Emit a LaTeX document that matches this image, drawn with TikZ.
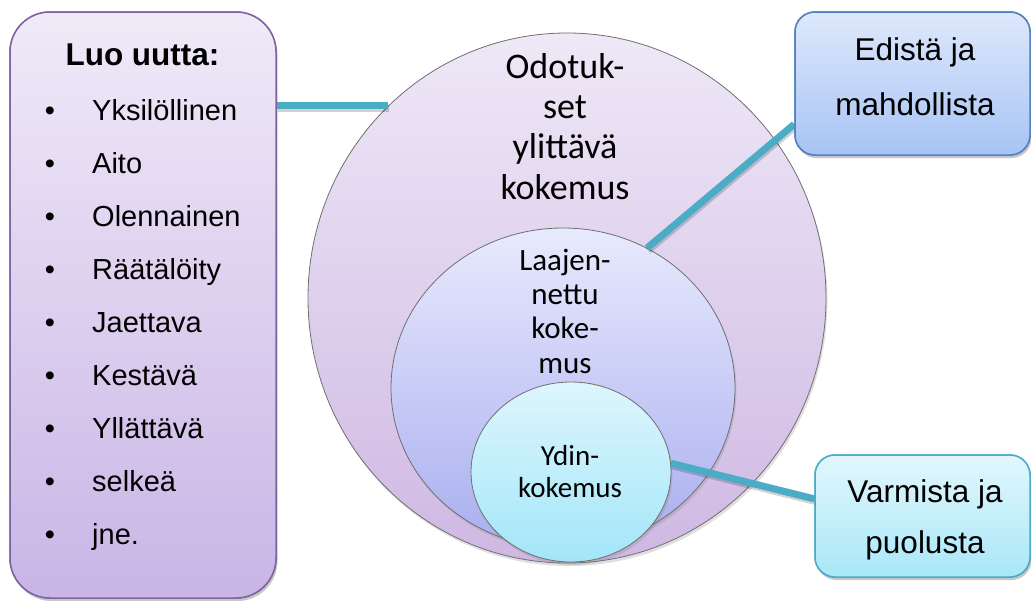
\documentclass[tikz,border=0pt]{standalone}
\usepackage{fontspec}
\setmainfont{Liberation Sans}
\newfontfamily\calib{Carlito}
\usetikzlibrary{shapes.geometric,shadows}
\definecolor{purpborder}{HTML}{8064A2}
\definecolor{lboxtop}{HTML}{F0EAF8}
\definecolor{lboxbot}{HTML}{C9B5E6}
\definecolor{outtop}{HTML}{EEE8F7}
\definecolor{outbot}{HTML}{CFB8E3}
\definecolor{midtop}{HTML}{E8EAFD}
\definecolor{midbot}{HTML}{A9AEEF}
\definecolor{inntop}{HTML}{DDF6FD}
\definecolor{innbot}{HTML}{A3E6F9}
\definecolor{eboxtop}{HTML}{DEE8FB}
\definecolor{eboxbot}{HTML}{A7C4F5}
\definecolor{eborder}{HTML}{4F81BD}
\definecolor{vboxtop}{HTML}{E2F7FD}
\definecolor{vboxbot}{HTML}{A9E7F8}
\definecolor{teal}{HTML}{4BACC6}
\definecolor{ringline}{HTML}{6F6F6F}
\begin{document}
\begin{tikzpicture}[x=1pt,y=-1pt,
  shad/.style={drop shadow={opacity=0.25,shadow xshift=1.5pt,shadow yshift=-3pt}},
  ring/.style={ellipse,draw=ringline,line width=0.8pt,inner sep=0pt,shad},
  box/.style={rectangle,line width=1.5pt,inner sep=0pt,shad},
  item/.style={anchor=base west,inner sep=0pt,font=\fontsize{29}{34}\selectfont},
  bul/.style={anchor=base,inner sep=0pt,font=\fontsize{29}{34}\selectfont},
  btxt/.style={anchor=base,inner sep=0pt,font=\fontsize{31.5}{36}\selectfont},
  otxt/.style={anchor=base,inner sep=0pt,font=\calib\fontsize{36}{40}\selectfont},
  mtxt/.style={anchor=base,inner sep=0pt,font=\calib\fontsize{31}{34}\selectfont},
  itxt/.style={anchor=base,inner sep=0pt,font=\calib\fontsize{29}{32}\selectfont},
  conn/.style={draw=teal,line width=7pt},
  connshadow/.style={draw=black,opacity=0.18,line width=7pt}
]
\useasboundingbox (0,0) rectangle (1031,600);

% rings
\node[ring,top color=outtop,bottom color=outbot,minimum width=518pt,minimum height=530pt] (outer) at (567,298) {};
\node[ring,top color=midtop,bottom color=midbot,minimum width=344pt,minimum height=320pt] (middle) at (563,388) {};
\node[ring,top color=inntop,bottom color=innbot,minimum width=200pt,minimum height=180pt] (inner) at (571,472) {};

% ring texts
\node[otxt] (o1t) at (565,78) {Odotuk-};
\node[otxt] (o2t) at (565,118) {set};
\node[otxt] (o3t) at (565,158) {ylittävä};
\node[otxt] (o4t) at (565,199) {kokemus};
\node[mtxt] (m1t) at (565,270) {Laajen-};
\node[mtxt] (m2t) at (565,304) {nettu};
\node[mtxt] (m3t) at (565,338) {koke-};
\node[mtxt] (m4t) at (565,373) {mus};
\node[itxt] (i1t) at (570,465) {Ydin-};
\node[itxt] (i2t) at (570,497) {kokemus};

% boxes (placed before connectors so anchors exist)
\node[box,draw=purpborder,rounded corners=40pt,top color=lboxtop,bottom color=lboxbot,minimum width=266pt,minimum height=586pt] (lbox) at (143,305) {};
\node[box,draw=eborder,rounded corners=20pt,top color=eboxtop,bottom color=eboxbot,minimum width=235pt,minimum height=143pt] (ebox) at (912.5,83.5) {};
\node[box,draw=teal,rounded corners=20pt,top color=vboxtop,bottom color=vboxbot,minimum width=215pt,minimum height=122pt] (vbox) at (922.5,516) {};

% connector end points
\coordinate (oc) at (outer.133);
\coordinate (mc) at (middle.59.6);
\coordinate (ic) at (inner.5.6);

% connectors
\begin{scope}[transform canvas={xshift=1pt,yshift=-2.5pt}]
\draw[connshadow] (lbox.east |- oc) -- (oc);
\draw[connshadow] (mc) -- (ebox.199.5);
\draw[connshadow] (ic) -- (vbox.171.5);
\end{scope}
\draw[conn] (lbox.east |- oc) -- (oc);
\draw[conn] (mc) -- (ebox.199.5);
\draw[conn] (ic) -- (vbox.171.5);

% redraw boxes on top of connector ends
\node[box,draw=purpborder,rounded corners=40pt,top color=lboxtop,bottom color=lboxbot,minimum width=266pt,minimum height=586pt] (lbox2) at (143,305) {};
\node[box,draw=eborder,rounded corners=20pt,top color=eboxtop,bottom color=eboxbot,minimum width=235pt,minimum height=143pt] (ebox2) at (912.5,83.5) {};
\node[box,draw=teal,rounded corners=20pt,top color=vboxtop,bottom color=vboxbot,minimum width=215pt,minimum height=122pt] (vbox2) at (922.5,516) {};

% left box texts
\node[anchor=base,inner sep=0pt,font=\bfseries\fontsize{31.5}{36}\selectfont] (title) at (142.5,65) {Luo uutta:};
\foreach \t [count=\i] in {Yksilöllinen,Aito,Olennainen,Räätälöity,Jaettava,Kestävä,Yllättävä,selkeä,jne.}{
  \node[bul] (b\i) at (50,{120+53*(\i-1)}) {•};
  \node[item] (t\i) at (92,{120+53*(\i-1)}) {\t};
}

% right box texts
\node[btxt] (e1) at (915,60) {Edistä ja};
\node[btxt] (e2) at (915,115) {mahdollista};
\node[btxt] (v1) at (925,502) {Varmista ja};
\node[btxt] (v2) at (925,553) {puolusta};
\end{tikzpicture}
\end{document}
